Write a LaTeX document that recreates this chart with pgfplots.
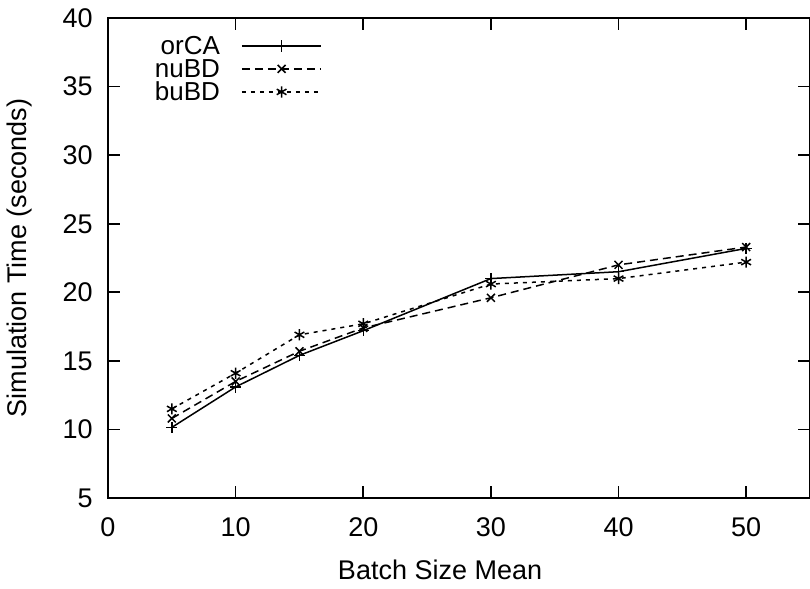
\documentclass[border=0pt]{standalone}
\usepackage{fontspec}
\setmainfont{Liberation Sans}
\usepackage{pgfplots}
\pgfplotsset{compat=1.18}
\begin{document}
\fontsize{13.5}{16}\selectfont
\begin{tikzpicture}
\begin{axis}[
  name=ax,
  scale only axis,
  width=351pt, height=240pt,
  xmin=0, xmax=55, ymin=5, ymax=40,
  xtick={0,10,20,30,40,50},
  ytick={5,10,15,20,25,30,35,40},
  tick align=inside,
  major tick length=6pt,
  tick style={black, line width=0.8pt},
  axis line style={line width=0.8pt},
  /pgf/number format/assume math mode=true,
  xlabel={Batch Size Mean},
  ylabel={Simulation Time (seconds)},
  xlabel style={at={(axis description cs:0.473,-0.15)}, anchor=center},
  ylabel style={at={(axis description cs:-0.1254,0.5)}, anchor=center},
  xticklabel style={yshift=-5pt},
  yticklabel style={xshift=-3pt},
  ticklabel style={font=\fontsize{13.5}{16}\selectfont},
  label style={font=\fontsize{13.5}{16}\selectfont},
  legend style={draw=none, fill=none, at={(0.052,0.975)}, anchor=north west,
    font=\fontsize{13}{15}\selectfont,
    nodes={text height=8.5pt, text depth=0pt, inner ysep=1.5pt, inner xsep=2pt}},
  legend cell align=right,
  legend plot pos=right,
  legend image code/.code={\path (0cm,0cm); \draw[mark repeat=2,mark phase=2] plot coordinates {(0.3cm,0cm) (1.0cm,0cm) (1.7cm,0cm)};},
]
\addplot[black, line width=0.75pt, mark=+, mark size=2.8pt, mark options={solid}]
  coordinates {(5,10.15) (10,13.1) (15,15.4) (20,17.2) (30,21.0) (40,21.5) (50,23.2)};
\addlegendentry{orCA}
\addplot[black, line width=0.75pt, dash pattern=on 4pt off 2.5pt, mark=x, mark size=2.8pt, mark options={solid}]
  coordinates {(5,10.8) (10,13.5) (15,15.7) (20,17.4) (30,19.6) (40,22.0) (50,23.3)};
\addlegendentry{nuBD}
\addplot[black, line width=0.75pt, dash pattern=on 2pt off 2.5pt, mark=asterisk, mark size=2.8pt, mark options={solid}]
  coordinates {(5,11.5) (10,14.1) (15,16.9) (20,17.7) (30,20.6) (40,21.0) (50,22.2)};
\addlegendentry{buBD}
\end{axis}
\pgfresetboundingbox
\useasboundingbox ([xshift=-54pt,yshift=-45pt]ax.south west) rectangle ([yshift=9pt]ax.north east);
\end{tikzpicture}
\end{document}
